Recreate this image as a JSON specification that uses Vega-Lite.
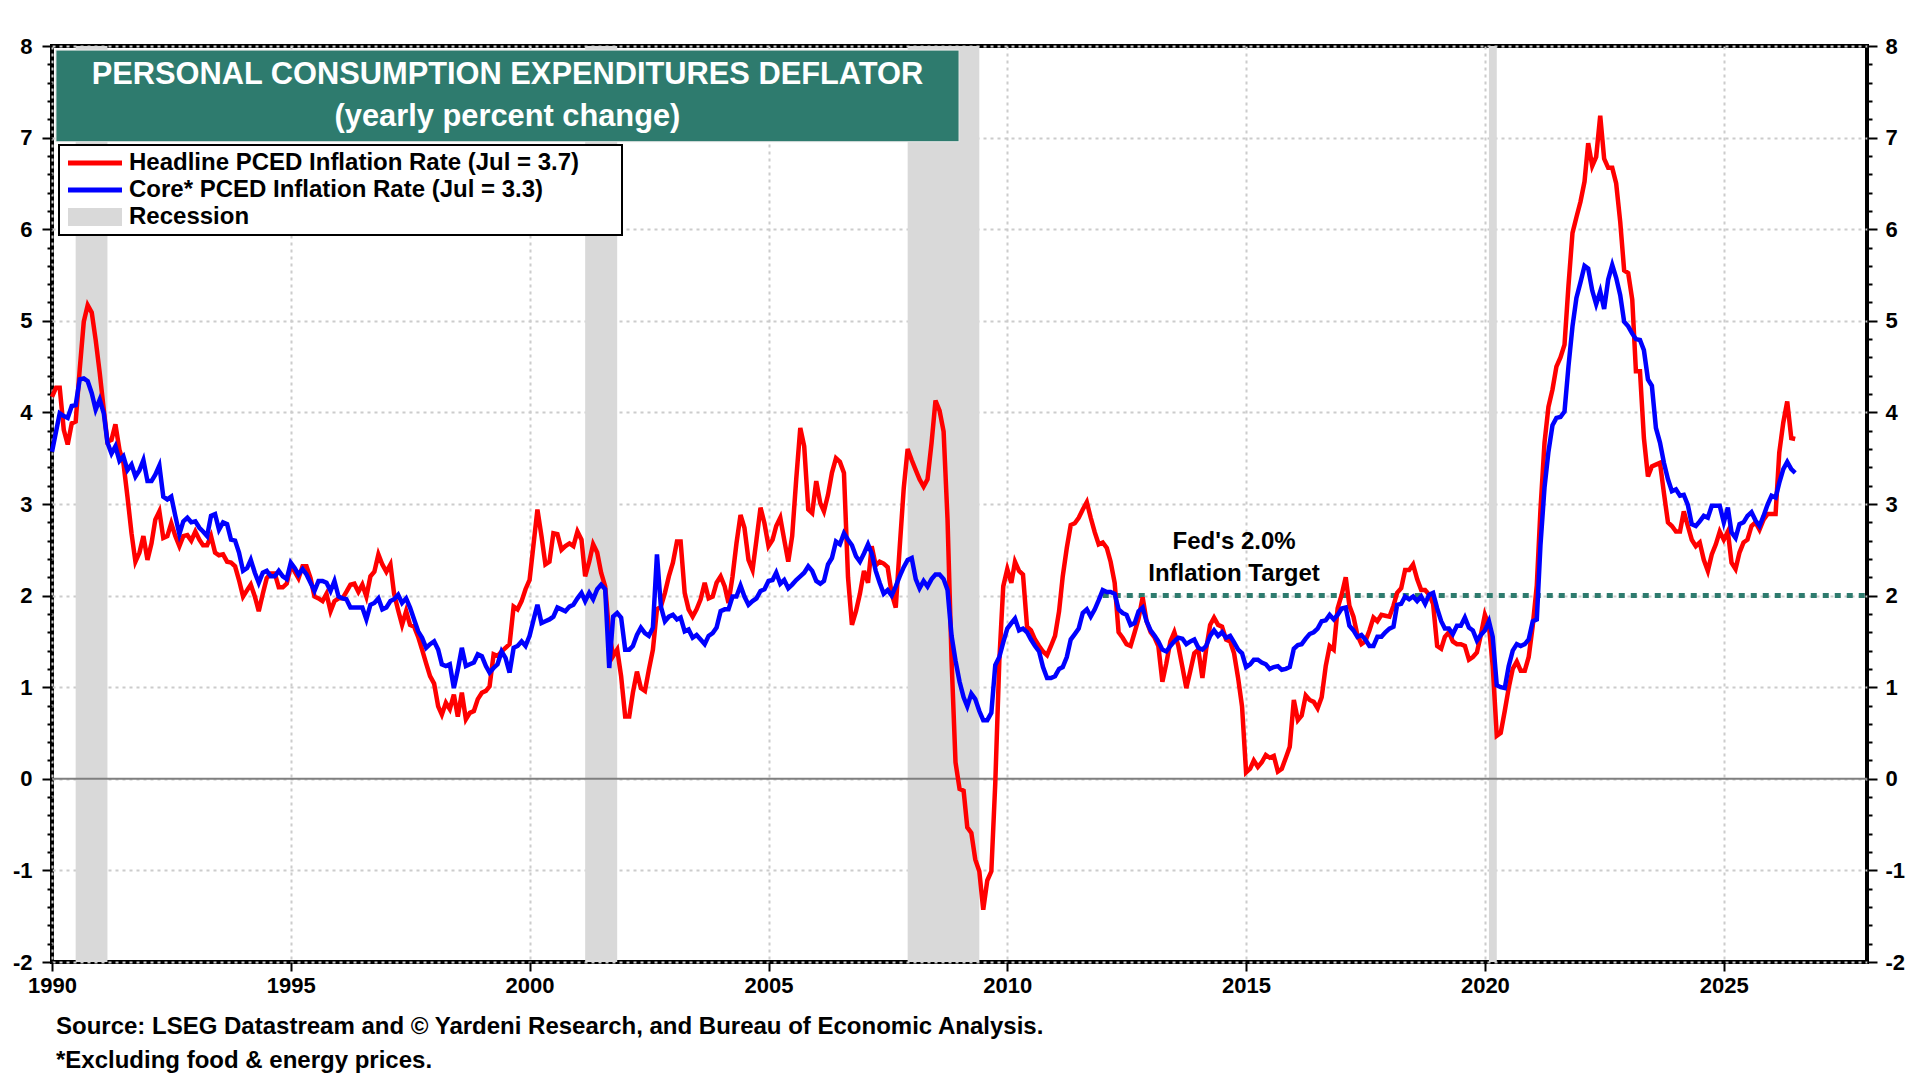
{
  "$schema": "https://vega.github.io/schema/vega-lite/v6.json",
  "width": 1815,
  "height": 916,
  "autosize": "none",
  "padding": {"left": 52, "top": 46, "right": 53, "bottom": 118},
  "background": "white",
  "title": {
    "text": ["Source: LSEG Datastream and © Yardeni Research, and Bureau of Economic Analysis.", "*Excluding food & energy prices."],
    "orient": "bottom",
    "anchor": "start",
    "frame": "group",
    "dx": 4,
    "offset": 19,
    "font": "Liberation Sans",
    "fontSize": 24,
    "fontWeight": "bold",
    "lineHeight": 34,
    "color": "black"
  },
  "datasets": {
    "rec": [
      {"s": "1990-07", "e": "1991-03"},
      {"s": "2001-03", "e": "2001-11"},
      {"s": "2007-12", "e": "2009-06"},
      {"s": "2020-02", "e": "2020-04"}
    ],
    "pce": [
      {"d":"1990-01","h":4.17,"c":3.57},{"d":"1990-02","h":4.27,"c":3.79},{"d":"1990-03","h":4.27,"c":3.99},{"d":"1990-04","h":3.81,"c":3.96},{"d":"1990-05","h":3.65,"c":3.94},{"d":"1990-06","h":3.88,"c":4.07},{"d":"1990-07","h":3.9,"c":4.08},{"d":"1990-08","h":4.47,"c":4.36},{"d":"1990-09","h":4.99,"c":4.37},{"d":"1990-10","h":5.17,"c":4.34},{"d":"1990-11","h":5.09,"c":4.21},{"d":"1990-12","h":4.79,"c":4.03},
      {"d":"1991-01","h":4.43,"c":4.14},{"d":"1991-02","h":4.03,"c":3.99},{"d":"1991-03","h":3.68,"c":3.67},{"d":"1991-04","h":3.7,"c":3.55},{"d":"1991-05","h":3.87,"c":3.63},{"d":"1991-06","h":3.59,"c":3.47},{"d":"1991-07","h":3.45,"c":3.52},{"d":"1991-08","h":3.08,"c":3.37},{"d":"1991-09","h":2.68,"c":3.43},{"d":"1991-10","h":2.37,"c":3.3},{"d":"1991-11","h":2.47,"c":3.37},{"d":"1991-12","h":2.65,"c":3.48},
      {"d":"1992-01","h":2.39,"c":3.25},{"d":"1992-02","h":2.57,"c":3.25},{"d":"1992-03","h":2.83,"c":3.32},{"d":"1992-04","h":2.92,"c":3.42},{"d":"1992-05","h":2.63,"c":3.08},{"d":"1992-06","h":2.65,"c":3.05},{"d":"1992-07","h":2.79,"c":3.08},{"d":"1992-08","h":2.65,"c":2.87},{"d":"1992-09","h":2.54,"c":2.67},{"d":"1992-10","h":2.65,"c":2.81},{"d":"1992-11","h":2.66,"c":2.85},{"d":"1992-12","h":2.6,"c":2.8},
      {"d":"1993-01","h":2.7,"c":2.81},{"d":"1993-02","h":2.61,"c":2.74},{"d":"1993-03","h":2.55,"c":2.7},{"d":"1993-04","h":2.55,"c":2.65},{"d":"1993-05","h":2.65,"c":2.87},{"d":"1993-06","h":2.47,"c":2.89},{"d":"1993-07","h":2.44,"c":2.72},{"d":"1993-08","h":2.45,"c":2.8},{"d":"1993-09","h":2.37,"c":2.78},{"d":"1993-10","h":2.36,"c":2.61},{"d":"1993-11","h":2.32,"c":2.6},{"d":"1993-12","h":2.17,"c":2.47},
      {"d":"1994-01","h":1.99,"c":2.27},{"d":"1994-02","h":2.06,"c":2.3},{"d":"1994-03","h":2.12,"c":2.39},{"d":"1994-04","h":1.99,"c":2.25},{"d":"1994-05","h":1.83,"c":2.14},{"d":"1994-06","h":2.02,"c":2.25},{"d":"1994-07","h":2.19,"c":2.27},{"d":"1994-08","h":2.24,"c":2.21},{"d":"1994-09","h":2.24,"c":2.21},{"d":"1994-10","h":2.09,"c":2.27},{"d":"1994-11","h":2.09,"c":2.21},{"d":"1994-12","h":2.13,"c":2.18},
      {"d":"1995-01","h":2.32,"c":2.36},{"d":"1995-02","h":2.26,"c":2.3},{"d":"1995-03","h":2.19,"c":2.23},{"d":"1995-04","h":2.32,"c":2.29},{"d":"1995-05","h":2.32,"c":2.23},{"d":"1995-06","h":2.19,"c":2.14},{"d":"1995-07","h":1.99,"c":2.05},{"d":"1995-08","h":1.97,"c":2.16},{"d":"1995-09","h":1.94,"c":2.16},{"d":"1995-10","h":2.02,"c":2.14},{"d":"1995-11","h":1.83,"c":2.05},{"d":"1995-12","h":1.94,"c":2.16},
      {"d":"1996-01","h":1.97,"c":1.99},{"d":"1996-02","h":1.97,"c":1.97},{"d":"1996-03","h":2.04,"c":1.96},{"d":"1996-04","h":2.12,"c":1.87},{"d":"1996-05","h":2.13,"c":1.87},{"d":"1996-06","h":2.04,"c":1.87},{"d":"1996-07","h":2.12,"c":1.87},{"d":"1996-08","h":1.99,"c":1.74},{"d":"1996-09","h":2.21,"c":1.9},{"d":"1996-10","h":2.26,"c":1.92},{"d":"1996-11","h":2.45,"c":1.97},{"d":"1996-12","h":2.34,"c":1.85},
      {"d":"1997-01","h":2.26,"c":1.87},{"d":"1997-02","h":2.34,"c":1.94},{"d":"1997-03","h":2.02,"c":1.96},{"d":"1997-04","h":1.84,"c":2.01},{"d":"1997-05","h":1.68,"c":1.92},{"d":"1997-06","h":1.83,"c":1.97},{"d":"1997-07","h":1.68,"c":1.87},{"d":"1997-08","h":1.66,"c":1.74},{"d":"1997-09","h":1.55,"c":1.61},{"d":"1997-10","h":1.41,"c":1.54},{"d":"1997-11","h":1.26,"c":1.43},{"d":"1997-12","h":1.12,"c":1.47},
      {"d":"1998-01","h":1.04,"c":1.5},{"d":"1998-02","h":0.79,"c":1.41},{"d":"1998-03","h":0.7,"c":1.25},{"d":"1998-04","h":0.83,"c":1.23},{"d":"1998-05","h":0.76,"c":1.25},{"d":"1998-06","h":0.92,"c":0.99},{"d":"1998-07","h":0.68,"c":1.19},{"d":"1998-08","h":0.94,"c":1.43},{"d":"1998-09","h":0.65,"c":1.23},{"d":"1998-10","h":0.72,"c":1.25},{"d":"1998-11","h":0.74,"c":1.27},{"d":"1998-12","h":0.87,"c":1.36},
      {"d":"1999-01","h":0.94,"c":1.34},{"d":"1999-02","h":0.96,"c":1.23},{"d":"1999-03","h":1.01,"c":1.16},{"d":"1999-04","h":1.36,"c":1.21},{"d":"1999-05","h":1.34,"c":1.25},{"d":"1999-06","h":1.39,"c":1.39},{"d":"1999-07","h":1.43,"c":1.32},{"d":"1999-08","h":1.47,"c":1.16},{"d":"1999-09","h":1.88,"c":1.43},{"d":"1999-10","h":1.85,"c":1.45},{"d":"1999-11","h":1.94,"c":1.5},{"d":"1999-12","h":2.07,"c":1.45},
      {"d":"2000-01","h":2.17,"c":1.56},{"d":"2000-02","h":2.57,"c":1.74},{"d":"2000-03","h":2.94,"c":1.9},{"d":"2000-04","h":2.65,"c":1.7},{"d":"2000-05","h":2.34,"c":1.72},{"d":"2000-06","h":2.37,"c":1.74},{"d":"2000-07","h":2.68,"c":1.77},{"d":"2000-08","h":2.67,"c":1.87},{"d":"2000-09","h":2.5,"c":1.85},{"d":"2000-10","h":2.54,"c":1.83},{"d":"2000-11","h":2.57,"c":1.88},{"d":"2000-12","h":2.54,"c":1.9},
      {"d":"2001-01","h":2.7,"c":1.97},{"d":"2001-02","h":2.61,"c":2.03},{"d":"2001-03","h":2.21,"c":1.94},{"d":"2001-04","h":2.37,"c":2.03},{"d":"2001-05","h":2.56,"c":1.96},{"d":"2001-06","h":2.47,"c":2.07},{"d":"2001-07","h":2.25,"c":2.12},{"d":"2001-08","h":2.1,"c":2.07},{"d":"2001-09","h":1.59,"c":1.21},{"d":"2001-10","h":1.34,"c":1.77},{"d":"2001-11","h":1.41,"c":1.81},{"d":"2001-12","h":1.12,"c":1.76},
      {"d":"2002-01","h":0.68,"c":1.41},{"d":"2002-02","h":0.68,"c":1.41},{"d":"2002-03","h":0.94,"c":1.45},{"d":"2002-04","h":1.17,"c":1.57},{"d":"2002-05","h":0.99,"c":1.65},{"d":"2002-06","h":0.96,"c":1.59},{"d":"2002-07","h":1.19,"c":1.56},{"d":"2002-08","h":1.41,"c":1.65},{"d":"2002-09","h":1.85,"c":2.45},{"d":"2002-10","h":1.88,"c":1.88},{"d":"2002-11","h":2.03,"c":1.72},{"d":"2002-12","h":2.21,"c":1.77},
      {"d":"2003-01","h":2.36,"c":1.79},{"d":"2003-02","h":2.59,"c":1.74},{"d":"2003-03","h":2.59,"c":1.76},{"d":"2003-04","h":2.03,"c":1.61},{"d":"2003-05","h":1.85,"c":1.63},{"d":"2003-06","h":1.77,"c":1.54},{"d":"2003-07","h":1.85,"c":1.57},{"d":"2003-08","h":1.96,"c":1.52},{"d":"2003-09","h":2.14,"c":1.47},{"d":"2003-10","h":1.97,"c":1.56},{"d":"2003-11","h":1.99,"c":1.59},{"d":"2003-12","h":2.14,"c":1.65},
      {"d":"2004-01","h":2.21,"c":1.83},{"d":"2004-02","h":2.1,"c":1.85},{"d":"2004-03","h":1.92,"c":1.85},{"d":"2004-04","h":2.21,"c":1.99},{"d":"2004-05","h":2.57,"c":1.99},{"d":"2004-06","h":2.88,"c":2.11},{"d":"2004-07","h":2.74,"c":1.99},{"d":"2004-08","h":2.39,"c":1.9},{"d":"2004-09","h":2.28,"c":1.94},{"d":"2004-10","h":2.61,"c":1.97},{"d":"2004-11","h":2.96,"c":2.05},{"d":"2004-12","h":2.79,"c":2.07},
      {"d":"2005-01","h":2.54,"c":2.16},{"d":"2005-02","h":2.61,"c":2.17},{"d":"2005-03","h":2.76,"c":2.25},{"d":"2005-04","h":2.85,"c":2.13},{"d":"2005-05","h":2.61,"c":2.17},{"d":"2005-06","h":2.37,"c":2.08},{"d":"2005-07","h":2.65,"c":2.12},{"d":"2005-08","h":3.27,"c":2.17},{"d":"2005-09","h":3.83,"c":2.21},{"d":"2005-10","h":3.63,"c":2.25},{"d":"2005-11","h":2.94,"c":2.32},{"d":"2005-12","h":2.9,"c":2.27},
      {"d":"2006-01","h":3.25,"c":2.16},{"d":"2006-02","h":3.01,"c":2.13},{"d":"2006-03","h":2.92,"c":2.16},{"d":"2006-04","h":3.1,"c":2.34},{"d":"2006-05","h":3.34,"c":2.41},{"d":"2006-06","h":3.5,"c":2.59},{"d":"2006-07","h":3.46,"c":2.56},{"d":"2006-08","h":3.34,"c":2.68},{"d":"2006-09","h":2.2,"c":2.61},{"d":"2006-10","h":1.68,"c":2.55},{"d":"2006-11","h":1.83,"c":2.43},{"d":"2006-12","h":2.02,"c":2.37},
      {"d":"2007-01","h":2.27,"c":2.46},{"d":"2007-02","h":2.14,"c":2.56},{"d":"2007-03","h":2.54,"c":2.46},{"d":"2007-04","h":2.33,"c":2.27},{"d":"2007-05","h":2.37,"c":2.14},{"d":"2007-06","h":2.35,"c":2.02},{"d":"2007-07","h":2.31,"c":2.06},{"d":"2007-08","h":2.02,"c":2.0},{"d":"2007-09","h":1.87,"c":2.1},{"d":"2007-10","h":2.52,"c":2.21},{"d":"2007-11","h":3.17,"c":2.31},{"d":"2007-12","h":3.6,"c":2.39},
      {"d":"2008-01","h":3.48,"c":2.41},{"d":"2008-02","h":3.37,"c":2.18},{"d":"2008-03","h":3.27,"c":2.08},{"d":"2008-04","h":3.19,"c":2.16},{"d":"2008-05","h":3.27,"c":2.1},{"d":"2008-06","h":3.67,"c":2.18},{"d":"2008-07","h":4.13,"c":2.23},{"d":"2008-08","h":4.02,"c":2.23},{"d":"2008-09","h":3.79,"c":2.18},{"d":"2008-10","h":2.83,"c":2.06},{"d":"2008-11","h":1.29,"c":1.56},{"d":"2008-12","h":0.18,"c":1.29},
      {"d":"2009-01","h":-0.11,"c":1.06},{"d":"2009-02","h":-0.13,"c":0.89},{"d":"2009-03","h":-0.53,"c":0.79},{"d":"2009-04","h":-0.59,"c":0.93},{"d":"2009-05","h":-0.88,"c":0.87},{"d":"2009-06","h":-1.01,"c":0.74},{"d":"2009-07","h":-1.43,"c":0.64},{"d":"2009-08","h":-1.11,"c":0.64},{"d":"2009-09","h":-1.01,"c":0.72},{"d":"2009-10","h":-0.05,"c":1.24},{"d":"2009-11","h":1.29,"c":1.33},{"d":"2009-12","h":2.1,"c":1.49},
      {"d":"2010-01","h":2.29,"c":1.64},{"d":"2010-02","h":2.14,"c":1.7},{"d":"2010-03","h":2.37,"c":1.75},{"d":"2010-04","h":2.27,"c":1.62},{"d":"2010-05","h":2.23,"c":1.64},{"d":"2010-06","h":1.66,"c":1.6},{"d":"2010-07","h":1.62,"c":1.52},{"d":"2010-08","h":1.52,"c":1.45},{"d":"2010-09","h":1.45,"c":1.39},{"d":"2010-10","h":1.39,"c":1.22},{"d":"2010-11","h":1.35,"c":1.1},{"d":"2010-12","h":1.45,"c":1.1},
      {"d":"2011-01","h":1.56,"c":1.12},{"d":"2011-02","h":1.83,"c":1.2},{"d":"2011-03","h":2.21,"c":1.22},{"d":"2011-04","h":2.52,"c":1.33},{"d":"2011-05","h":2.77,"c":1.52},{"d":"2011-06","h":2.79,"c":1.58},{"d":"2011-07","h":2.85,"c":1.64},{"d":"2011-08","h":2.94,"c":1.81},{"d":"2011-09","h":3.02,"c":1.85},{"d":"2011-10","h":2.85,"c":1.77},{"d":"2011-11","h":2.69,"c":1.85},{"d":"2011-12","h":2.56,"c":1.95},
      {"d":"2012-01","h":2.58,"c":2.06},{"d":"2012-02","h":2.52,"c":2.04},{"d":"2012-03","h":2.37,"c":2.04},{"d":"2012-04","h":2.14,"c":2.02},{"d":"2012-05","h":1.6,"c":1.85},{"d":"2012-06","h":1.54,"c":1.81},{"d":"2012-07","h":1.47,"c":1.79},{"d":"2012-08","h":1.45,"c":1.68},{"d":"2012-09","h":1.6,"c":1.7},{"d":"2012-10","h":1.75,"c":1.83},{"d":"2012-11","h":1.98,"c":1.87},{"d":"2012-12","h":1.72,"c":1.72},
      {"d":"2013-01","h":1.6,"c":1.62},{"d":"2013-02","h":1.54,"c":1.56},{"d":"2013-03","h":1.45,"c":1.5},{"d":"2013-04","h":1.06,"c":1.41},{"d":"2013-05","h":1.26,"c":1.39},{"d":"2013-06","h":1.5,"c":1.45},{"d":"2013-07","h":1.6,"c":1.5},{"d":"2013-08","h":1.45,"c":1.54},{"d":"2013-09","h":1.22,"c":1.53},{"d":"2013-10","h":0.99,"c":1.47},{"d":"2013-11","h":1.18,"c":1.5},{"d":"2013-12","h":1.37,"c":1.52},
      {"d":"2014-01","h":1.41,"c":1.43},{"d":"2014-02","h":1.1,"c":1.41},{"d":"2014-03","h":1.41,"c":1.45},{"d":"2014-04","h":1.68,"c":1.56},{"d":"2014-05","h":1.76,"c":1.62},{"d":"2014-06","h":1.68,"c":1.56},{"d":"2014-07","h":1.66,"c":1.6},{"d":"2014-08","h":1.52,"c":1.54},{"d":"2014-09","h":1.5,"c":1.56},{"d":"2014-10","h":1.37,"c":1.49},{"d":"2014-11","h":1.1,"c":1.41},{"d":"2014-12","h":0.79,"c":1.37},
      {"d":"2015-01","h":0.07,"c":1.22},{"d":"2015-02","h":0.11,"c":1.25},{"d":"2015-03","h":0.2,"c":1.3},{"d":"2015-04","h":0.13,"c":1.3},{"d":"2015-05","h":0.18,"c":1.27},{"d":"2015-06","h":0.26,"c":1.25},{"d":"2015-07","h":0.23,"c":1.2},{"d":"2015-08","h":0.25,"c":1.22},{"d":"2015-09","h":0.08,"c":1.23},{"d":"2015-10","h":0.11,"c":1.19},{"d":"2015-11","h":0.23,"c":1.2},{"d":"2015-12","h":0.35,"c":1.22},
      {"d":"2016-01","h":0.86,"c":1.42},{"d":"2016-02","h":0.64,"c":1.46},{"d":"2016-03","h":0.69,"c":1.47},{"d":"2016-04","h":0.91,"c":1.53},{"d":"2016-05","h":0.86,"c":1.58},{"d":"2016-06","h":0.84,"c":1.6},{"d":"2016-07","h":0.77,"c":1.64},{"d":"2016-08","h":0.89,"c":1.72},{"d":"2016-09","h":1.23,"c":1.73},{"d":"2016-10","h":1.45,"c":1.79},{"d":"2016-11","h":1.41,"c":1.74},{"d":"2016-12","h":1.86,"c":1.79},
      {"d":"2017-01","h":2.01,"c":1.86},{"d":"2017-02","h":2.2,"c":1.87},{"d":"2017-03","h":1.89,"c":1.67},{"d":"2017-04","h":1.77,"c":1.62},{"d":"2017-05","h":1.57,"c":1.55},{"d":"2017-06","h":1.47,"c":1.57},{"d":"2017-07","h":1.5,"c":1.52},{"d":"2017-08","h":1.62,"c":1.45},{"d":"2017-09","h":1.76,"c":1.45},{"d":"2017-10","h":1.72,"c":1.55},{"d":"2017-11","h":1.79,"c":1.55},{"d":"2017-12","h":1.78,"c":1.6},
      {"d":"2018-01","h":1.77,"c":1.64},{"d":"2018-02","h":1.89,"c":1.66},{"d":"2018-03","h":2.03,"c":1.9},{"d":"2018-04","h":2.08,"c":1.91},{"d":"2018-05","h":2.28,"c":1.99},{"d":"2018-06","h":2.28,"c":1.96},{"d":"2018-07","h":2.34,"c":1.99},{"d":"2018-08","h":2.18,"c":1.94},{"d":"2018-09","h":2.06,"c":1.99},{"d":"2018-10","h":2.06,"c":1.91},{"d":"2018-11","h":2.01,"c":2.01},{"d":"2018-12","h":1.91,"c":2.03},
      {"d":"2019-01","h":1.45,"c":1.86},{"d":"2019-02","h":1.42,"c":1.72},{"d":"2019-03","h":1.55,"c":1.64},{"d":"2019-04","h":1.6,"c":1.64},{"d":"2019-05","h":1.5,"c":1.58},{"d":"2019-06","h":1.47,"c":1.67},{"d":"2019-07","h":1.47,"c":1.67},{"d":"2019-08","h":1.45,"c":1.76},{"d":"2019-09","h":1.3,"c":1.65},{"d":"2019-10","h":1.33,"c":1.62},{"d":"2019-11","h":1.38,"c":1.51},{"d":"2019-12","h":1.57,"c":1.57},
      {"d":"2020-01","h":1.79,"c":1.62},{"d":"2020-02","h":1.67,"c":1.72},{"d":"2020-03","h":1.23,"c":1.55},{"d":"2020-04","h":0.47,"c":1.02},{"d":"2020-05","h":0.5,"c":1.0},{"d":"2020-06","h":0.74,"c":0.99},{"d":"2020-07","h":0.99,"c":1.23},{"d":"2020-08","h":1.2,"c":1.4},{"d":"2020-09","h":1.28,"c":1.47},{"d":"2020-10","h":1.18,"c":1.45},{"d":"2020-11","h":1.18,"c":1.47},{"d":"2020-12","h":1.33,"c":1.52},
      {"d":"2021-01","h":1.67,"c":1.72},{"d":"2021-02","h":2.11,"c":1.74},{"d":"2021-03","h":2.94,"c":2.55},{"d":"2021-04","h":3.67,"c":3.18},{"d":"2021-05","h":4.06,"c":3.57},{"d":"2021-06","h":4.25,"c":3.86},{"d":"2021-07","h":4.5,"c":3.94},{"d":"2021-08","h":4.6,"c":3.95},{"d":"2021-09","h":4.74,"c":4.01},{"d":"2021-10","h":5.38,"c":4.5},{"d":"2021-11","h":5.96,"c":4.94},{"d":"2021-12","h":6.13,"c":5.25},
      {"d":"2022-01","h":6.3,"c":5.42},{"d":"2022-02","h":6.52,"c":5.6},{"d":"2022-03","h":6.94,"c":5.57},{"d":"2022-04","h":6.69,"c":5.33},{"d":"2022-05","h":6.79,"c":5.18},{"d":"2022-06","h":7.24,"c":5.32},{"d":"2022-07","h":6.77,"c":5.13},{"d":"2022-08","h":6.67,"c":5.45},{"d":"2022-09","h":6.67,"c":5.61},{"d":"2022-10","h":6.5,"c":5.47},{"d":"2022-11","h":6.08,"c":5.28},{"d":"2022-12","h":5.55,"c":4.99},
      {"d":"2023-01","h":5.52,"c":4.94},{"d":"2023-02","h":5.23,"c":4.86},{"d":"2023-03","h":4.45,"c":4.8},{"d":"2023-04","h":4.45,"c":4.79},{"d":"2023-05","h":3.72,"c":4.68},{"d":"2023-06","h":3.3,"c":4.36},{"d":"2023-07","h":3.41,"c":4.29},{"d":"2023-08","h":3.43,"c":3.83},{"d":"2023-09","h":3.45,"c":3.67},{"d":"2023-10","h":3.12,"c":3.45},{"d":"2023-11","h":2.8,"c":3.27},{"d":"2023-12","h":2.76,"c":3.14},
      {"d":"2024-01","h":2.7,"c":3.16},{"d":"2024-02","h":2.7,"c":3.09},{"d":"2024-03","h":2.92,"c":3.1},{"d":"2024-04","h":2.76,"c":2.99},{"d":"2024-05","h":2.61,"c":2.78},{"d":"2024-06","h":2.54,"c":2.76},{"d":"2024-07","h":2.58,"c":2.81},{"d":"2024-08","h":2.39,"c":2.87},{"d":"2024-09","h":2.27,"c":2.85},{"d":"2024-10","h":2.45,"c":2.98},{"d":"2024-11","h":2.56,"c":2.98},{"d":"2024-12","h":2.7,"c":2.98},
      {"d":"2025-01","h":2.61,"c":2.8},{"d":"2025-02","h":2.7,"c":2.96},{"d":"2025-03","h":2.36,"c":2.69},{"d":"2025-04","h":2.29,"c":2.63},{"d":"2025-05","h":2.47,"c":2.78},{"d":"2025-06","h":2.58,"c":2.8},{"d":"2025-07","h":2.61,"c":2.87},{"d":"2025-08","h":2.76,"c":2.91},{"d":"2025-09","h":2.8,"c":2.82},{"d":"2025-10","h":2.72,"c":2.76},{"d":"2025-11","h":2.83,"c":2.87},{"d":"2025-12","h":2.89,"c":2.99},
      {"d":"2026-01","h":2.89,"c":3.09},{"d":"2026-02","h":2.89,"c":3.07},{"d":"2026-03","h":3.56,"c":3.23},{"d":"2026-04","h":3.89,"c":3.38},{"d":"2026-05","h":4.12,"c":3.46},{"d":"2026-06","h":3.72,"c":3.38},{"d":"2026-07","h":3.71,"c":3.34}
    ]
  },
  "layer": [
    {
      "data": {"values": [{}]},
      "mark": {"type": "rule", "opacity": 0},
      "encoding": {
        "y": {
          "datum": 0,
          "type": "quantitative",
          "title": null,
          "scale": {"domain": [-2, 8], "nice": false, "zero": false},
          "axis": {
            "orient": "left",
            "values": [-2, -1.8, -1.6, -1.4, -1.2, -1, -0.8, -0.6, -0.4, -0.2, 0, 0.2, 0.4, 0.6, 0.8, 1, 1.2, 1.4, 1.6, 1.8, 2, 2.2, 2.4, 2.6, 2.8, 3, 3.2, 3.4, 3.6, 3.8, 4, 4.2, 4.4, 4.6, 4.8, 5, 5.2, 5.4, 5.6, 5.8, 6, 6.2, 6.4, 6.6, 6.8, 7, 7.2, 7.4, 7.6, 7.8, 8],
            "labelExpr": "abs(datum.value - round(datum.value)) < 0.01 ? '' + round(datum.value) : ''",
            "labelOverlap": false,
            "labelBound": false,
            "tickSize": {"condition": {"test": "abs(datum.value - round(datum.value)) < 0.01", "value": 10}, "value": 5},
            "labelPadding": 10,
            "labelFlush": false,
            "grid": true,
            "gridColor": "#cccccc",
            "gridDash": [3, 4],
            "gridWidth": 2,
            "gridOpacity": {"condition": {"test": "abs(datum.value - round(datum.value)) < 0.01", "value": 1}, "value": 0}
          }
        }
      }
    },
    {
      "layer": [
        {
          "data": {"name": "rec"},
          "mark": {"type": "rect"},
          "encoding": {
            "x": {"field": "s", "type": "temporal", "title": null},
            "x2": {"field": "e"},
            "color": {"datum": "r", "type": "nominal"}
          }
        },
        {
          "data": {"values": [{}]},
          "mark": {"type": "rule", "color": "#7f7f7f", "strokeWidth": 2},
          "encoding": {"y": {"datum": 0, "type": "quantitative", "title": null, "axis": null}}
        },
        {
          "data": {"values": [{}]},
          "mark": {"type": "rule", "color": "#2e7b6e", "strokeWidth": 5, "strokeDash": [6, 6]},
          "encoding": {
            "x": {"datum": {"year": 2012, "month": 1, "date": 1, "utc": true}, "type": "temporal", "title": null},
            "x2": {"datum": {"year": 2028, "month": 1, "date": 1, "utc": true}},
            "y": {"datum": 2, "type": "quantitative", "title": null, "axis": null}
          }
        },
        {
          "data": {"name": "pce"},
          "mark": {"type": "line", "strokeWidth": 4.5},
          "encoding": {
            "x": {
              "field": "d",
              "type": "temporal",
              "title": null,
              "scale": {"type": "utc", "nice": false, "domain": [{"year": 1990, "month": 1, "date": 1, "utc": true}, {"year": 2028, "month": 1, "date": 1, "utc": true}]},
              "axis": {
                "values": [{"year": 1990, "utc": true}, {"year": 1995, "utc": true}, {"year": 2000, "utc": true}, {"year": 2005, "utc": true}, {"year": 2010, "utc": true}, {"year": 2015, "utc": true}, {"year": 2020, "utc": true}, {"year": 2025, "utc": true}],
                "format": "%Y",
                "labelFlush": false,
                "labelOverlap": false,
                "labelPadding": 4,
                "tickSize": 9,
                "grid": true,
                "gridColor": "#cccccc",
                "gridDash": [3, 4],
                "gridWidth": 2
              }
            },
            "y": {
              "field": "h",
              "type": "quantitative",
              "title": null,
              "scale": {"domain": [-2, 8], "nice": false, "zero": false},
              "axis": null
            },
            "color": {
              "datum": "h",
              "type": "nominal",
              "scale": {"domain": ["h", "c", "r"], "range": ["#ff0000", "#0000ff", "#d9d9d9"]},
              "legend": {
                "orient": "none",
                "legendX": 7,
                "legendY": 99,
                "title": null,
                "symbolType": "M-2.7,-0.24H2.7V0.24H-2.7Z",
                "symbolSize": 400,
                "symbolStrokeWidth": 0,
                "symbolOffset": 18,
                "labelFont": "Liberation Sans",
                "labelFontSize": 24,
                "labelFontWeight": "bold",
                "labelColor": "black",
                "labelOffset": 22,
                "labelLimit": 900,
                "rowPadding": 3,
                "padding": 6,
                "strokeColor": "black",
                "fillColor": "white",
                "labelExpr": "(datum.value === 'h' ? 'Headline PCED Inflation Rate (Jul = 3.7)' : datum.value === 'c' ? 'Core* PCED Inflation Rate (Jul = 3.3)' : 'Recession') + '\u2800\u2800'",
                "encode": {
                  "legend": {"update": {"strokeWidth": {"value": 2}}},
                  "symbols": {"update": {
                    "fill": {"scale": "color", "field": "value"},
                    "stroke": {"value": "transparent"},
                    "strokeWidth": {"value": 0},
                    "opacity": {"value": 1},
                    "shape": {"signal": "datum.value === 'r' ? 'M-2.7,-0.9H2.7V0.9H-2.7Z' : 'M-2.7,-0.24H2.7V0.24H-2.7Z'"}
                  }}
                }
              }
            }
          }
        },
        {
          "data": {"name": "pce"},
          "mark": {"type": "line", "strokeWidth": 4.5},
          "encoding": {
            "x": {"field": "d", "type": "temporal", "title": null},
            "y": {"field": "c", "type": "quantitative", "title": null, "axis": null},
            "color": {"datum": "c", "type": "nominal"}
          }
        },
        {
          "data": {"values": [{}]},
          "mark": {"type": "rect", "color": "#2e7b6e", "stroke": "#e8e8e8", "strokeWidth": 1},
          "encoding": {
            "x": {"datum": {"year": 1990, "month": 1, "date": 31, "utc": true}, "type": "temporal", "title": null},
            "x2": {"datum": {"year": 2008, "month": 12, "date": 28, "utc": true}},
            "y": {"datum": 7.955, "type": "quantitative", "title": null, "axis": null},
            "y2": {"datum": 6.955}
          }
        },
        {
          "data": {"values": [{}]},
          "mark": {"type": "text", "text": ["PERSONAL CONSUMPTION EXPENDITURES DEFLATOR", "(yearly percent change)"], "font": "Liberation Sans", "fontSize": 30.8, "fontWeight": "bold", "color": "white", "lineHeight": 42, "align": "center", "baseline": "middle"},
          "encoding": {
            "x": {"datum": {"year": 1999, "month": 7, "date": 16, "utc": true}, "type": "temporal", "title": null},
            "y": {"datum": 7.68, "type": "quantitative", "title": null, "axis": null}
          }
        },
        {
          "data": {"values": [{}]},
          "mark": {"type": "text", "text": ["Fed's 2.0%", "Inflation Target"], "font": "Liberation Sans", "fontSize": 24, "fontWeight": "bold", "color": "black", "lineHeight": 32, "align": "center", "baseline": "middle"},
          "encoding": {
            "x": {"datum": {"year": 2014, "month": 10, "date": 1, "utc": true}, "type": "temporal", "title": null},
            "y": {"datum": 2.59, "type": "quantitative", "title": null, "axis": null}
          }
        }
      ]
    },
    {
      "data": {"values": [{}]},
      "mark": {"type": "rule", "opacity": 0},
      "encoding": {
        "y": {
          "datum": 0,
          "type": "quantitative",
          "title": null,
          "scale": {"domain": [-2, 8], "nice": false, "zero": false},
          "axis": {
            "orient": "right",
            "values": [-2, -1.8, -1.6, -1.4, -1.2, -1, -0.8, -0.6, -0.4, -0.2, 0, 0.2, 0.4, 0.6, 0.8, 1, 1.2, 1.4, 1.6, 1.8, 2, 2.2, 2.4, 2.6, 2.8, 3, 3.2, 3.4, 3.6, 3.8, 4, 4.2, 4.4, 4.6, 4.8, 5, 5.2, 5.4, 5.6, 5.8, 6, 6.2, 6.4, 6.6, 6.8, 7, 7.2, 7.4, 7.6, 7.8, 8],
            "labelExpr": "abs(datum.value - round(datum.value)) < 0.01 ? '' + round(datum.value) : ''",
            "labelOverlap": false,
            "labelBound": false,
            "tickSize": {"condition": {"test": "abs(datum.value - round(datum.value)) < 0.01", "value": 10}, "value": 5},
            "labelPadding": 8,
            "labelFlush": false,
            "grid": false
          }
        }
      }
    }
  ],
  "resolve": {"scale": {"y": "independent"}},
  "config": {
    "font": "Liberation Sans",
    "view": {"stroke": "black", "strokeWidth": 4},
    "axis": {
      "domain": false,
      "labelFont": "Liberation Sans",
      "labelFontSize": 22,
      "labelFontWeight": "bold",
      "labelColor": "black",
      "tickColor": "black",
      "tickWidth": 2
    }
  }
}
